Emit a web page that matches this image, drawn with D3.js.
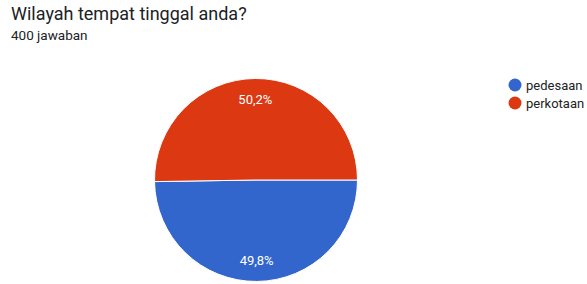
<!DOCTYPE html>
<html>
<head>
<meta charset="utf-8">
<script src="https://cdn.jsdelivr.net/npm/d3@7"></script>
<style>
  body { margin: 0; background: #fff; }
  svg { display: block; font-family: Roboto, Arial, sans-serif; }
</style>
</head>
<body>
<div id="chart"></div>
<script>
const title = 'Wilayah tempat tinggal anda?'
const subtitle = '400 jawaban'
const categories = ['pedesaan', 'perkotaan']
const counts = [199, 201]
const colors = ['#3366cc', '#dc3912']

const width = 587; const height = 284
const cx = 256; const cy = 180; const radius = 101.5

const svg = d3.select('#chart').append('svg')
  .attr('width', width).attr('height', height)

svg.append('text')
  .attr('x', 11).attr('y', 20)
  .style('font-size', '18px').style('fill', '#202124')
  .text(title)

svg.append('text')
  .attr('x', 11).attr('y', 40)
  .style('font-size', '13.5px').style('fill', '#202124')
  .text(subtitle)

const data = categories.map((c, i) => ({ name: c, value: counts[i], color: colors[i] }))
const total = d3.sum(counts)

// percentages: round each, last one takes the remainder so they add to 100
const pcts = []
data.forEach((d, i) => {
  if (i < data.length - 1) pcts.push(Math.round(d.value / total * 1000) / 10)
  else pcts.push(Math.round((100 - d3.sum(pcts)) * 10) / 10)
})
data.forEach((d, i) => { d.pct = pcts[i] })

// google forms starts the first slice at 3 o'clock, going clockwise
const pie = d3.pie().value(d => d.value).sort(null)
  .startAngle(Math.PI / 2).endAngle(Math.PI / 2 + 2 * Math.PI)

const arc = d3.arc().innerRadius(0).outerRadius(radius)
const labelArc = d3.arc().innerRadius(radius * 0.79).outerRadius(radius * 0.79)

const g = svg.append('g').attr('transform', 'translate(' + cx + ',' + cy + ')')

const slices = pie(data)

g.selectAll('path')
  .data(slices)
  .enter().append('path')
  .attr('d', arc)
  .style('fill', d => d.data.color)
  .style('stroke', '#fff')
  .style('stroke-width', 1)

g.selectAll('text.lbl')
  .data(slices)
  .enter().append('text')
  .attr('class', 'lbl')
  .attr('transform', d => 'translate(' + labelArc.centroid(d) + ')')
  .attr('text-anchor', 'middle')
  .attr('dy', '0.35em')
  .style('font-size', '13px')
  .style('fill', '#fff')
  .text(d => d.data.pct.toFixed(1).replace('.', ',') + '%')

const legend = svg.append('g').attr('transform', 'translate(515, 85)')
const rowH = 18

legend.selectAll('circle')
  .data(data)
  .enter().append('circle')
  .attr('cx', 0)
  .attr('cy', (d, i) => i * rowH)
  .attr('r', 6.5)
  .style('fill', d => d.color)

legend.selectAll('text')
  .data(data)
  .enter().append('text')
  .attr('x', 11)
  .attr('y', (d, i) => i * rowH)
  .attr('dy', '0.35em')
  .style('font-size', '13px')
  .style('fill', '#222')
  .text(d => d.name)
</script>
</body>
</html>
